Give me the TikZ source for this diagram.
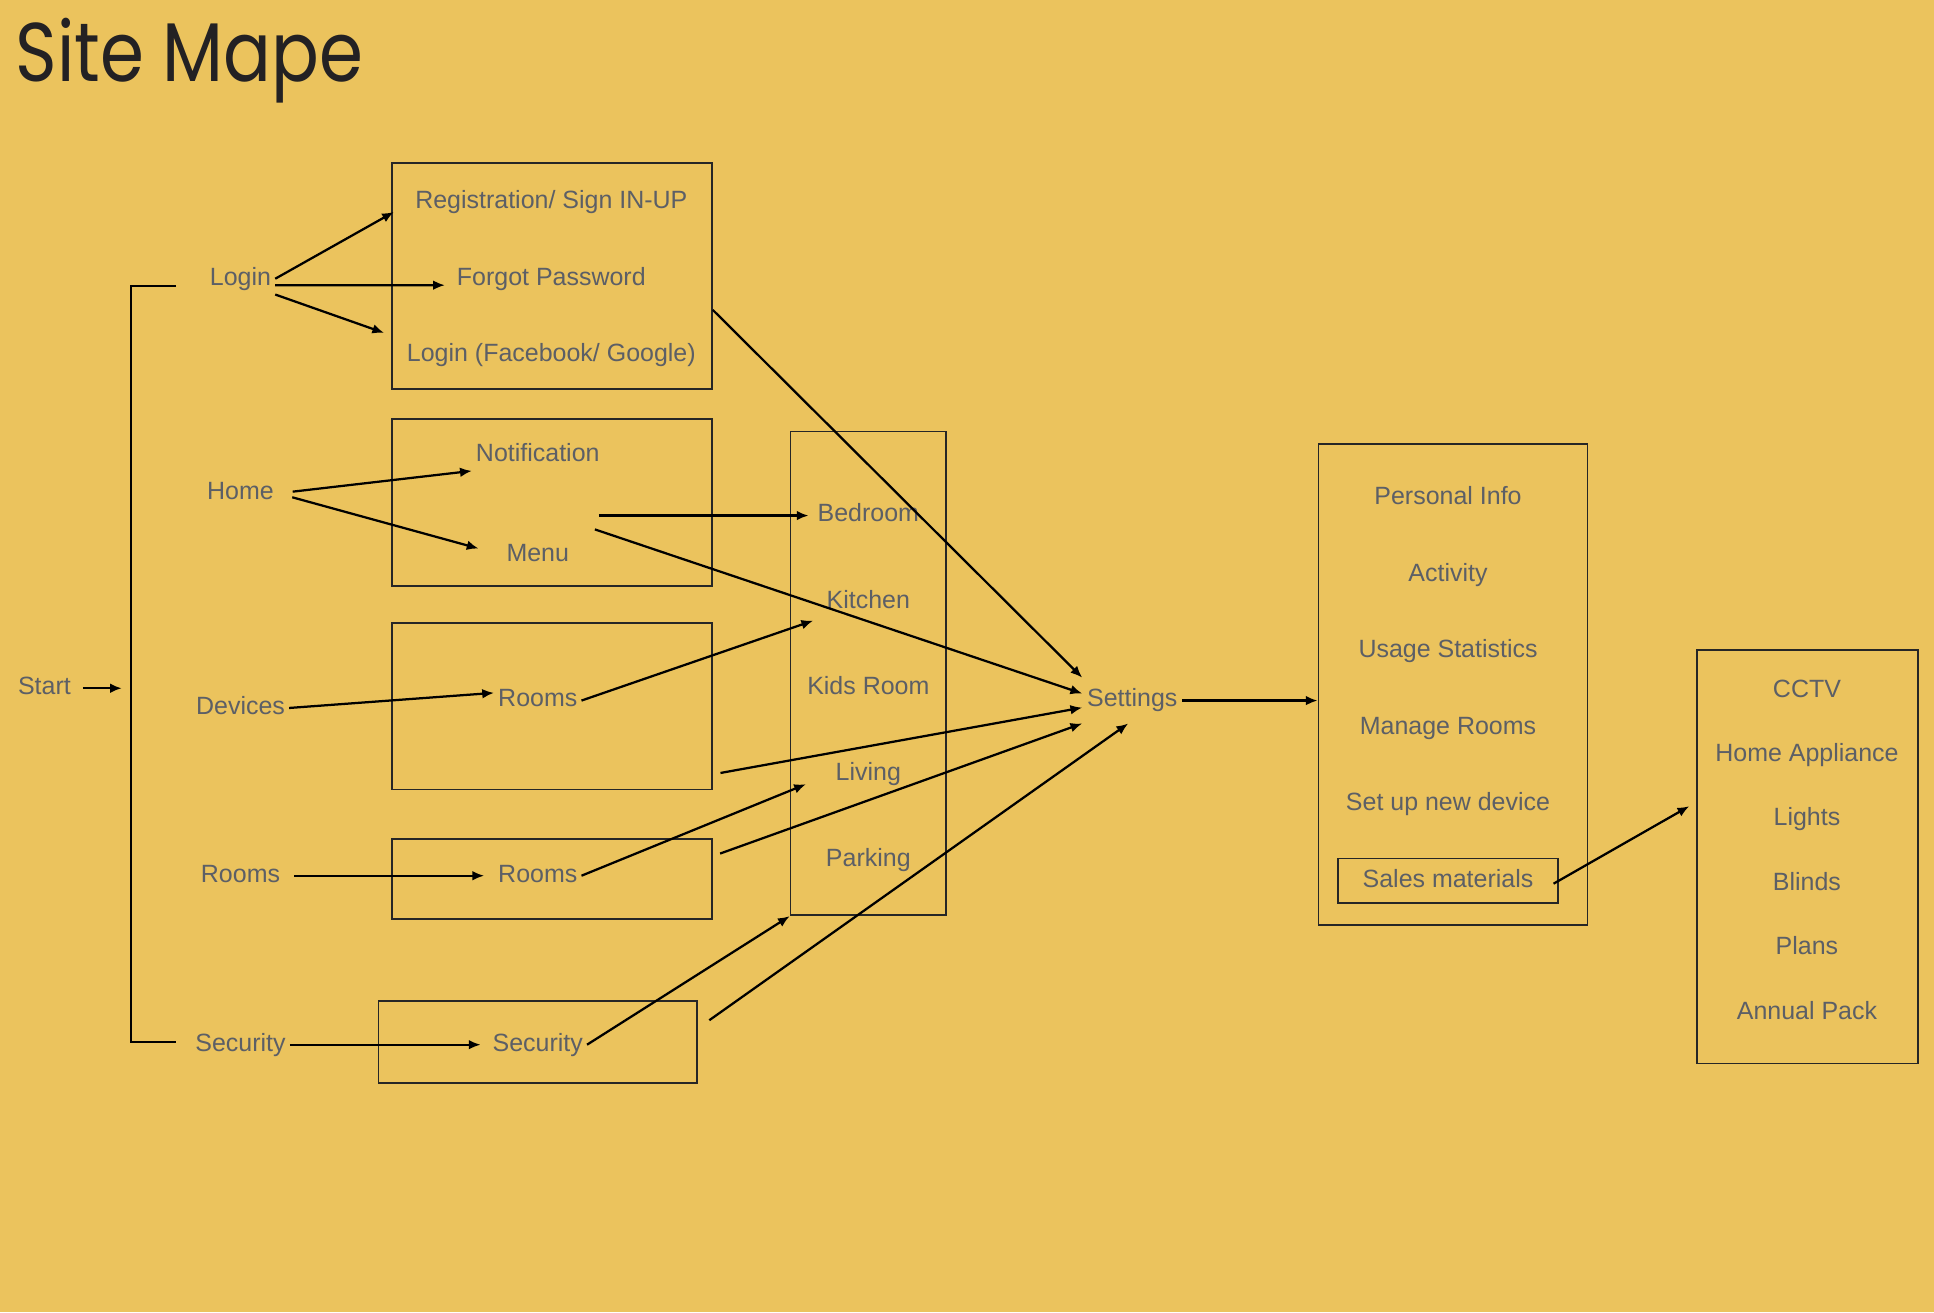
\documentclass[tikz,border=0pt]{standalone}
\usepackage{fontspec}
\setmainfont{Liberation Sans}
\newfontfamily\titlefont[FakeStretch=0.85]{Poppins}
\usetikzlibrary{positioning,arrows.meta}
\definecolor{bgyellow}{RGB}{235,195,93}
\definecolor{labelgray}{RGB}{92,95,102}
\definecolor{titleblack}{RGB}{35,33,35}

\begin{document}
\begin{tikzpicture}[x=0.0125cm, y=-0.0125cm, node distance=0.775cm,
  lbl/.style={text=labelgray, font=\fontsize{7.2}{8.6}\selectfont, inner sep=1pt, text height=5.2pt, text depth=1.5pt},
  panel/.style={draw=black!85, line width=0.5pt, inner sep=0pt},
  arr/.style={-{Latex[length=3.4pt,width=2.8pt]}, line width=0.65pt},
  link/.style={line width=0.65pt}]
\fill[bgyellow] (0,0) rectangle (1568,1064);
\useasboundingbox (0,0) rectangle (1568,1064);

\node (title) [anchor=base west, inner sep=0pt, text=titleblack, font=\titlefont\fontsize{24}{28}\selectfont] at (12,66) {Site Mape};

\node (loginbox) [panel, minimum width=3.24cm, minimum height=2.29cm] at (447.5,223.5) {};
\node (homebox) [panel, minimum width=3.24cm, minimum height=1.69cm] at (447.5,407.5) {};
\node (devbox) [panel, minimum width=3.24cm, minimum height=1.69cm] at (447.5,572.5) {};
\node (roomsbox) [panel, minimum width=3.24cm, minimum height=0.81cm] at (447.5,712.5) {};
\node (secbox) [panel, minimum width=3.23cm, minimum height=0.83cm] at (436,845) {};
\node (roomcol) [panel, minimum width=1.575cm, minimum height=4.9cm] at (704,546) {};
\node (setpanel) [panel, minimum width=2.725cm, minimum height=4.875cm] at (1178,555) {};
\node (productpanel) [panel, minimum width=2.24cm, minimum height=4.19cm] at (1465.5,694.5) {};

\node (start) [lbl] at (36,558) {Start};
\node (login) [lbl] at (195,226) {Login};
\node (home) [lbl] at (195,400) {Home};
\node (devices) [lbl] at (195,574) {Devices};
\node (rooms) [lbl] at (195,710) {Rooms};
\node (security) [lbl] at (195,847) {Security};

\node (reg) [lbl] at (447,164) {Registration/ Sign IN-UP};
\node (forgot) [lbl, below of=reg] {Forgot Password};
\node (loginfb) [lbl, below of=forgot] {Login (Facebook/ Google)};
\node (notif) [lbl] at (436,369) {Notification};
\node (menu) [lbl, node distance=1.0125cm, below of=notif] {Menu};
\node (rooms1) [lbl] at (436,568) {Rooms};
\node (rooms2) [lbl] at (436,710) {Rooms};
\node (sec2) [lbl] at (436,847) {Security};

\node (bedroom) [lbl] at (704,418) {Bedroom};
\node (kitchen) [lbl, node distance=0.872cm, below of=bedroom] {Kitchen};
\node (kids) [lbl, node distance=0.872cm, below of=kitchen] {Kids Room};
\node (living) [lbl, node distance=0.872cm, below of=kids] {Living};
\node (parking) [lbl, node distance=0.872cm, below of=living] {Parking};

\node (settings) [lbl, minimum width=1cm, minimum height=0.45cm] at (918,568) {Settings};

\node (pinfo) [lbl] at (1174,404) {Personal Info};
\node (activity) [lbl, below of=pinfo] {Activity};
\node (usage) [lbl, below of=activity] {Usage Statistics};
\node (manage) [lbl, below of=usage] {Manage Rooms};
\node (setup) [lbl, below of=manage] {Set up new device};
\node (sales) [lbl, panel, minimum width=2.225cm, minimum height=0.45cm, below of=setup] {Sales materials};

\node (cctv) [lbl] at (1465,560) {CCTV};
\node (appliance) [lbl, node distance=0.6525cm, below of=cctv] {Home Appliance};
\node (lights) [lbl, node distance=0.6525cm, below of=appliance] {Lights};
\node (blinds) [lbl, node distance=0.6525cm, below of=lights] {Blinds};
\node (plans) [lbl, node distance=0.6525cm, below of=blinds] {Plans};
\node (annual) [lbl, node distance=0.6525cm, below of=plans] {Annual Pack};

\coordinate (btop) at (106,232);
\coordinate (bbot) at (106,845);
\draw[link] ([xshift=0.46cm]btop) -- (btop) -- (bbot) -- ([xshift=0.46cm]bbot);
\draw[arr, shorten <=0.08cm, shorten >=0.09cm] (start) -- (start -| btop);

\draw[arr, shorten >=0.2cm] (login.east) -- (reg.west);
\draw[arr, shorten >=0.08cm] (login.base east) -- (forgot.base west);
\draw[arr, shorten >=0.2cm] (login.south east) -- (loginfb.north west);
\draw[arr, shorten <=0.15cm] (home.east) -- (notif.south west);
\draw[arr, shorten <=0.15cm, shorten >=0.25cm] (home.east) -- (menu.west);
\draw[arr, shorten <=0.26cm, shorten >=0.05cm] (menu.east |- bedroom.west) -- (bedroom.west);
\draw[arr] ([xshift=0.22cm,yshift=0.1cm]menu.north east) -- (settings.172);
\draw[arr] (loginbox.-12) -- (settings.north west);
\draw[arr] (devices.east) -- (rooms1.170);
\draw[arr, shorten >=0.1cm] (rooms1.east) -- (kitchen.south west);
\draw[arr, shorten <=0.08cm] (devbox.-23) -- (settings.188);
\draw[arr, shorten <=0.1cm, shorten >=0.1cm] (rooms.east) -- (rooms2.west);
\draw[arr, shorten >=0.28cm] (rooms2.east) -- (living.west);
\draw[arr, shorten <=0.08cm] (roomsbox.8) -- (settings.south west);
\draw[arr, shorten >=0.08cm] (security.east) -- (sec2.west);
\draw[arr] (sec2.east) -- (roomcol.south west);
\draw[arr, shorten <=0.14cm] (secbox.5) -- (settings.260);
\draw[arr] (settings.east) -- (settings.east -| setpanel.west);
\draw[arr, shorten <=-0.06cm, shorten >=0.08cm] (sales.east) -- (productpanel.154);
\end{tikzpicture}
\end{document}
